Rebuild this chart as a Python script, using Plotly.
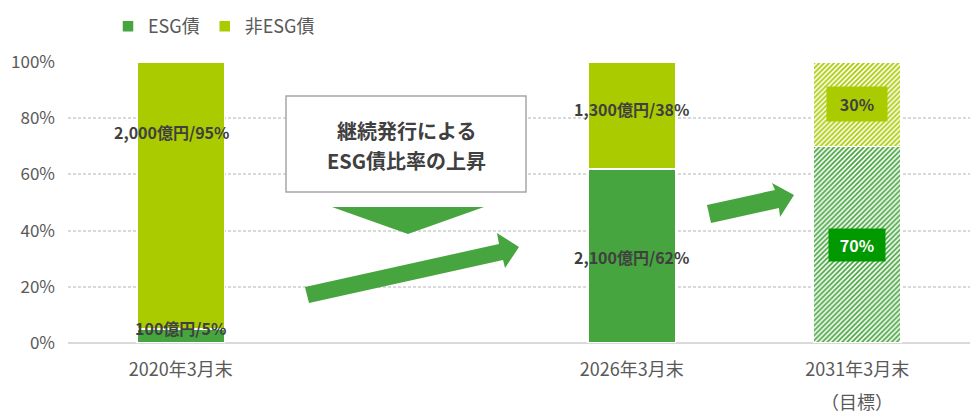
import plotly.graph_objects as go

# data
categories = ["2020年3月末", "", "2026年3月末", "2031年3月末"]
category_notes = ["", "", "", "（目標）"]
esg_share = [5, None, 62, 70]
non_esg_share = [95, None, 38, 30]
esg_labels = ["100億円/5%", "", "2,100億円/62%", "70%"]
non_esg_labels = ["2,000億円/95%", "", "1,300億円/38%", "30%"]
esg_label_y = [5.3, None, 30.6, 34.9]
non_esg_label_y = [75.2, None, 83.3, 85]
patterns = ["", "", "", "/"]

ESG_GREEN = "#46A53E"
NON_ESG = "#AACB00"
FONT = "Noto Sans CJK JP"
# page body has an 8px margin, so the figure is 8px smaller than the window
OFF = 8
W, H = 972, 410
L, R, T, B = 60, 10, 54, 75

x_pos = list(range(len(categories)))


def px(x, y):
    # window pixel -> paper coords
    x, y = x - OFF, y - OFF
    return (x - L) / (W - L - R), (H - B - y) / (H - T - B)


def path(points):
    s = ""
    for i, (x, y) in enumerate(points):
        a, b = px(x, y)
        s += ("M" if i == 0 else "L") + f"{a:.4f},{b:.4f} "
    return s + "Z"


fig = go.Figure()
for name, vals, col in [("ESG債", esg_share, ESG_GREEN), ("非ESG債", non_esg_share, NON_ESG)]:
    fig.add_trace(go.Bar(
        x=x_pos, y=vals, name=name, width=0.39,
        marker=dict(color=col, line=dict(color="white", width=1.5),
                    pattern=dict(shape=patterns, size=3.5, solidity=0.5,
                                 fgcolor=col, bgcolor="white", fillmode="replace")),
    ))

# data labels
for i in x_pos:
    if esg_labels[i] == "":
        continue
    boxed = patterns[i] != ""
    fig.add_annotation(
        x=i, y=esg_label_y[i], text="<b>" + esg_labels[i] + "</b>", showarrow=False,
        xanchor="center", yanchor="middle",
        font=dict(family=FONT, size=16, color="white" if boxed else "#404040"),
        bgcolor="#009900" if boxed else None,
        width=54 if boxed else None, height=30 if boxed else None,
    )
    fig.add_annotation(
        x=i, y=non_esg_label_y[i], text="<b>" + non_esg_labels[i] + "</b>", showarrow=False,
        xanchor="center", yanchor="middle", xshift=-9 if i == 0 else 0,
        font=dict(family=FONT, size=16, color="#404040"),
        bgcolor=NON_ESG if boxed else None,
        width=58 if boxed else None, height=32 if boxed else None,
    )
    if category_notes[i]:
        nx, ny = px(0, 401)
        fig.add_annotation(x=i, xref="x", yref="paper", y=ny, text=category_notes[i],
                           showarrow=False, xanchor="center", yanchor="middle",
                           font=dict(family=FONT, size=18, color="#595959"))

# text box + arrows
x0, y0 = px(286, 192)
x1, y1 = px(526, 96)
fig.add_shape(type="rect", xref="paper", yref="paper", x0=x0, y0=y0, x1=x1, y1=y1,
              line=dict(color="#A6A6A6", width=1.5), fillcolor="white", layer="above")
for txt, yy in [("継続発行による", 130), ("ESG債比率の上昇", 160)]:
    ax, ay = px(406, yy)
    fig.add_annotation(xref="paper", yref="paper", x=ax, y=ay, text="<b>" + txt + "</b>",
                       showarrow=False, xanchor="center", yanchor="middle",
                       font=dict(family=FONT, size=20, color="#404040"))

fig.add_shape(type="path", xref="paper", yref="paper", layer="above",
              path=path([(332, 207), (484, 207), (408, 234)]),
              fillcolor=ESG_GREEN, line=dict(width=0))
fig.add_shape(type="path", xref="paper", yref="paper", layer="above",
              path=path([(305, 287), (499, 244), (497, 233), (519, 247), (505, 268), (503, 260), (309, 303)]),
              fillcolor=ESG_GREEN, line=dict(width=0))
fig.add_shape(type="path", xref="paper", yref="paper", layer="above",
              path=path([(707, 205), (775, 190), (772, 183), (794, 195), (780, 217), (779, 208), (711, 223)]),
              fillcolor=ESG_GREEN, line=dict(width=0))

lx, ly = px(108, OFF)
fig.update_layout(
    width=W, height=H, barmode="stack",
    margin=dict(l=L, r=R, t=T, b=B, autoexpand=False),
    plot_bgcolor="white", paper_bgcolor="white",
    font=dict(family=FONT, color="#595959"),
    legend=dict(orientation="h", x=lx, y=ly, xanchor="left", yanchor="top",
                font=dict(size=18, color="#595959"), traceorder="normal",
                itemwidth=30, tracegroupgap=0),
    xaxis=dict(tickvals=x_pos, ticktext=categories, range=[-0.5, 3.5],
               showgrid=False, ticks="", tickfont=dict(size=18, color="#595959"),
               ticklabelstandoff=14),
    yaxis=dict(range=[0, 100], dtick=20, ticksuffix="%", showgrid=True,
               gridcolor="#D9D9D9", gridwidth=1.5, griddash="3px,2px",
               zeroline=True, zerolinecolor="#D9D9D9", zerolinewidth=1.5,
               tickfont=dict(size=17, color="#595959"), ticklabelstandoff=12),
)

fig.write_html("out.html")
